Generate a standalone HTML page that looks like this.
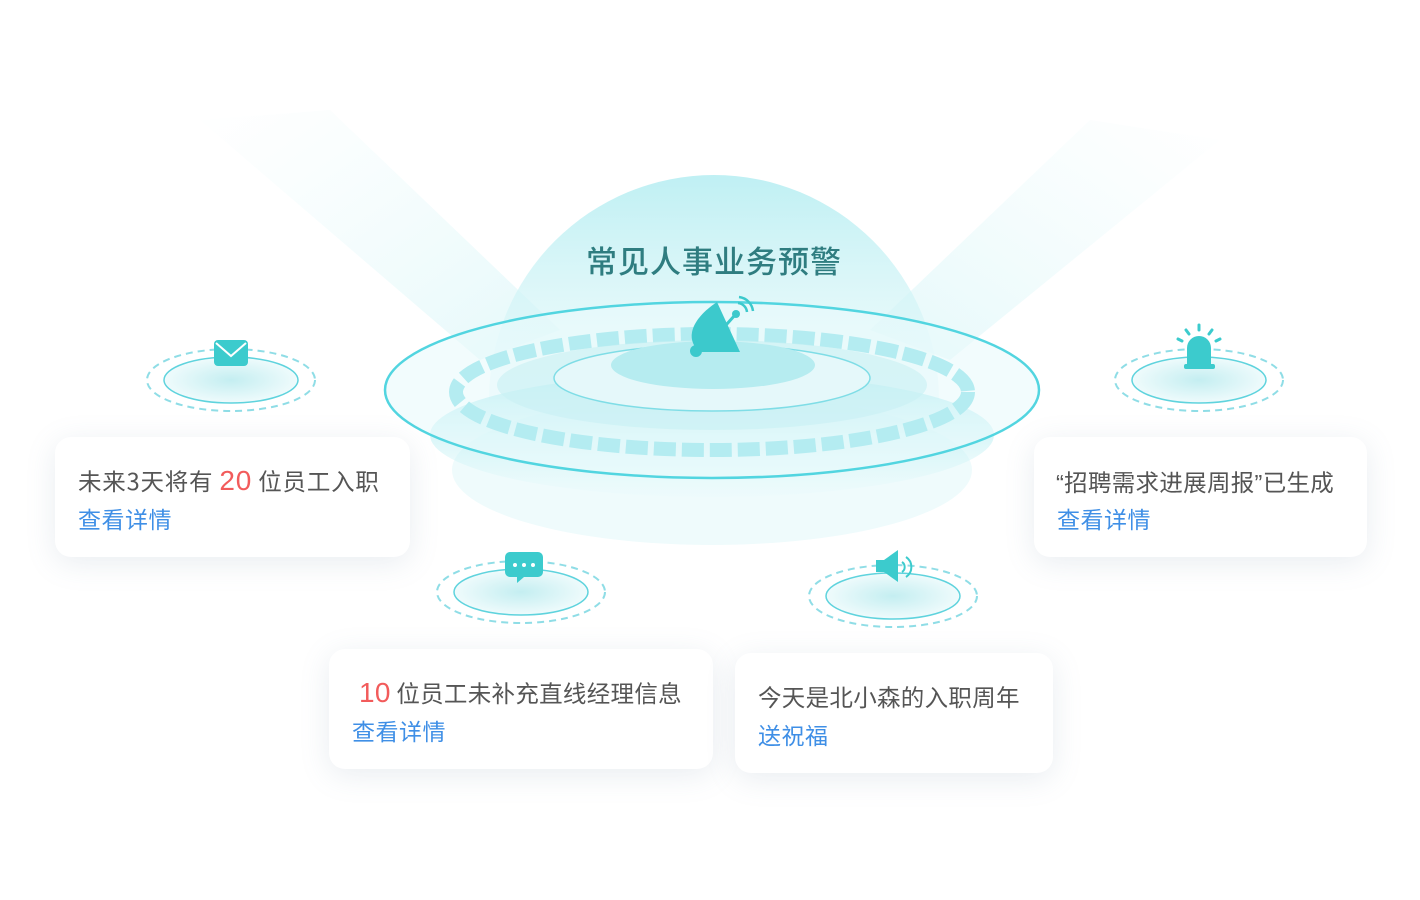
<!DOCTYPE html>
<html><head><meta charset="utf-8"><style>
body{margin:0;width:1420px;height:900px;background:#fff;position:relative;overflow:hidden;font-family:"Noto Sans CJK SC","Liberation Sans",sans-serif}
svg{position:absolute;left:0;top:0}
.card{position:absolute;background:#fff;border-radius:16px;box-shadow:0 6px 30px rgba(120,140,170,.16);color:#555;font-size:23.5px;letter-spacing:.3px;box-sizing:border-box}
.card .l1{position:absolute;white-space:nowrap;line-height:30px}
.card .l2{position:absolute;color:#3f8fe6;font-size:23px;letter-spacing:.5px;line-height:30px}
.n{color:#f25b5b;font-size:28px;font-family:"Liberation Sans",sans-serif}
.q{font-family:"Liberation Sans",sans-serif}
</style></head><body>
<svg width="1420" height="900" viewBox="0 0 1420 900">
<defs>
<linearGradient id="beamL" x1="0" y1="0" x2="1" y2="1"><stop offset="0" stop-color="#d6f5f7" stop-opacity="0"/><stop offset="1" stop-color="#bff0f3" stop-opacity=".7"/></linearGradient>
<linearGradient id="beamR" x1="1" y1="0" x2="0" y2="1"><stop offset="0" stop-color="#d6f5f7" stop-opacity="0"/><stop offset="1" stop-color="#bff0f3" stop-opacity=".7"/></linearGradient>
<linearGradient id="dome" x1="0" y1="0" x2="0" y2="1"><stop offset="0" stop-color="#b8eef2"/><stop offset="1" stop-color="#e6f9fa" stop-opacity=".6"/></linearGradient>
<linearGradient id="bowl" x1="0" y1="0" x2="0" y2="1"><stop offset="0" stop-color="#7fe0e8"/><stop offset="1" stop-color="#e8fafb" stop-opacity=".3"/></linearGradient>
<radialGradient id="pad"><stop offset="0" stop-color="#c4eef1"/><stop offset="1" stop-color="#effbfc"/></radialGradient>
</defs>
<polygon points="200,120 330,110 560,330 480,360" fill="url(#beamL)" opacity=".6"/>
<polygon points="1220,140 1090,120 870,330 950,360" fill="url(#beamR)" opacity=".6"/>
<path d="M489,400 A225,225 0 0 1 939,400 Z" fill="url(#dome)" opacity=".9"/>
<ellipse cx="712" cy="470" rx="260" ry="75" fill="#effbfc"/>
<ellipse cx="712" cy="435" rx="282" ry="62" fill="url(#bowl)" opacity=".8"/>
<ellipse cx="712" cy="390" rx="327" ry="88" fill="#e9fafb" fill-opacity=".6" stroke="#52d5e0" stroke-width="2.5"/>
<ellipse cx="712" cy="392" rx="256" ry="58" fill="none" stroke="#b4ecf1" stroke-width="14" stroke-dasharray="22 6"/>
<ellipse cx="712" cy="385" rx="215" ry="45" fill="#c8f0f4" fill-opacity=".6"/>
<ellipse cx="712" cy="378" rx="158" ry="33" fill="#e5f8fa" stroke="#7fdde6" stroke-width="1.5"/>
<ellipse cx="713" cy="365" rx="102" ry="24" fill="#b6ecf0"/>
<g fill="#3cc9cc">
<path d="M717,302 C690,320 685,340 700,352 L740,352 Z"/>
<circle cx="696" cy="351" r="6"/>
<line x1="718" y1="334" x2="735" y2="315" stroke="#3cc9cc" stroke-width="3"/>
<circle cx="736" cy="314" r="4"/>
<path d="M738,303 a10,10 0 0 1 9,9" fill="none" stroke="#3cc9cc" stroke-width="2.5"/>
<path d="M739,297 a16,16 0 0 1 14,14" fill="none" stroke="#3cc9cc" stroke-width="2.5"/>
</g>
<text x="714" y="273" text-anchor="middle" font-size="31" fill="#2f7d80" font-family="Noto Sans CJK SC,sans-serif" font-weight="500" letter-spacing="1">常见人事业务预警</text>
<g>
<ellipse cx="231" cy="380" rx="84" ry="31" fill="none" stroke="#8fdde6" stroke-width="2" stroke-dasharray="7 5"/>
<ellipse cx="231" cy="380" rx="67" ry="23" fill="url(#pad)" stroke="#5fd3dd" stroke-width="1.5"/>
<rect x="214" y="340" width="34" height="26" rx="4" fill="#3ccbcd"/>
<path d="M216,343 L231,356 L246,343" fill="none" stroke="#fff" stroke-width="2"/>
</g>
<g>
<ellipse cx="1199" cy="380" rx="84" ry="31" fill="none" stroke="#8fdde6" stroke-width="2" stroke-dasharray="7 5"/>
<ellipse cx="1199" cy="380" rx="67" ry="23" fill="url(#pad)" stroke="#5fd3dd" stroke-width="1.5"/>
<path d="M1187,364 L1187,348 a12,12 0 0 1 24,0 L1211,364 Z" fill="#3ccbcd"/>
<rect x="1184" y="364" width="31" height="5" rx="2" fill="#3ccbcd"/>
<g stroke="#3ccbcd" stroke-width="3" stroke-linecap="round"><line x1="1199" y1="325" x2="1199" y2="330"/><line x1="1186" y1="330" x2="1189" y2="334"/><line x1="1212" y1="330" x2="1209" y2="334"/><line x1="1178" y1="339" x2="1182" y2="341"/><line x1="1220" y1="339" x2="1216" y2="341"/></g>
</g>
<g>
<ellipse cx="521" cy="592" rx="84" ry="31" fill="none" stroke="#8fdde6" stroke-width="2" stroke-dasharray="7 5"/>
<ellipse cx="521" cy="592" rx="67" ry="23" fill="url(#pad)" stroke="#5fd3dd" stroke-width="1.5"/>
<path d="M510,552 h28 a5,5 0 0 1 5,5 v15 a5,5 0 0 1 -5,5 h-14 l-7,6 v-6 h-7 a5,5 0 0 1 -5,-5 v-15 a5,5 0 0 1 5,-5z" fill="#3ccbcd"/>
<circle cx="515" cy="565" r="2" fill="#fff"/><circle cx="524" cy="565" r="2" fill="#fff"/><circle cx="533" cy="565" r="2" fill="#fff"/>
</g>
<g>
<ellipse cx="893" cy="596" rx="84" ry="31" fill="none" stroke="#8fdde6" stroke-width="2" stroke-dasharray="7 5"/>
<ellipse cx="893" cy="596" rx="67" ry="23" fill="url(#pad)" stroke="#5fd3dd" stroke-width="1.5"/>
<path d="M876,560 h8 l14,-10 v32 l-14,-10 h-8z" fill="#3ccbcd"/>
<path d="M902,562 a6,6 0 0 1 0,10" fill="none" stroke="#3ccbcd" stroke-width="2"/>
<path d="M906,557 a12,12 0 0 1 0,20" fill="none" stroke="#3ccbcd" stroke-width="2"/>
</g>
</svg>
<div class="card" style="left:55px;top:437px;width:355px;height:120px">
<div class="l1" style="left:23px;top:28px;letter-spacing:.8px">未来3天将有 <span class="n">20</span> 位员工入职</div>
<div class="l2" style="left:23px;top:66px">查看详情</div></div>
<div class="card" style="left:1034px;top:437px;width:333px;height:120px">
<div class="l1" style="left:22px;top:29px"><span class="q">“</span>招聘需求进展周报<span class="q">”</span>已生成</div>
<div class="l2" style="left:23px;top:66px">查看详情</div></div>
<div class="card" style="left:329px;top:649px;width:384px;height:120px">
<div class="l1" style="left:30px;top:28px"><span class="n">10</span> 位员工未补充直线经理信息</div>
<div class="l2" style="left:23px;top:66px">查看详情</div></div>
<div class="card" style="left:735px;top:653px;width:318px;height:120px">
<div class="l1" style="left:23px;top:28px">今天是北小森的入职周年</div>
<div class="l2" style="left:23px;top:66px">送祝福</div></div>
</body></html>
